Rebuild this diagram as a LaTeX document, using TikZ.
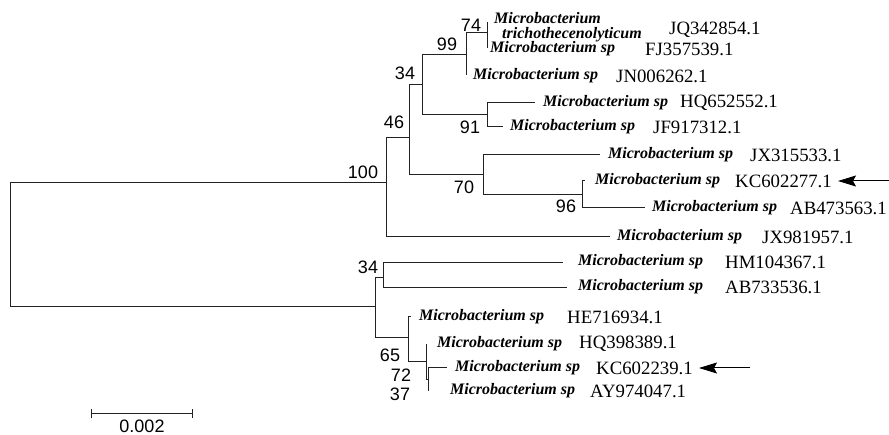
\documentclass[tikz,border=0pt]{standalone}
\usepackage{fontspec}
\setmainfont{Liberation Serif}
\newfontfamily\numfont{Liberation Sans}
\usetikzlibrary{arrows.meta}
\definecolor{treeline}{HTML}{222222}

\tikzset{
    branch/.style={line width=1pt, treeline},
    spname/.style={anchor=west, inner sep=0pt, font=\fontsize{16}{14.5}\selectfont\bfseries\itshape},
    accname/.style={anchor=west, inner sep=0pt, font=\fontsize{18.8}{20}\selectfont},
    bootval/.style={inner sep=0pt, font=\numfont\fontsize{18}{20}\selectfont},
    marker/.style={line width=1pt, shorten >=6pt, -{Stealth[length=18pt, width=11pt, inset=3pt]}}
}

\begin{document}
\begin{tikzpicture}[x=1pt, y=-1pt, >=Stealth]
    \useasboundingbox (0,0) rectangle (889,435);

    % Internal nodes of the tree
    \coordinate (root) at (10,245);
    \coordinate (n100) at (386,183);
    \coordinate (n46)  at (409,138);
    \coordinate (n34a) at (422,85);
    \coordinate (n99)  at (466,55);
    \coordinate (n74)  at (487,33);
    \coordinate (n91)  at (487,115);
    \coordinate (n70)  at (483,175);
    \coordinate (n96)  at (582,195);
    \coordinate (nlow) at (375,307);
    \coordinate (n34b) at (383,278);
    \coordinate (n65)  at (408,338);
    \coordinate (n72)  at (426,362);
    \coordinate (n37)  at (428,380);

    % Leaf tips
    \coordinate (tJQ342854) at (487,22);
    \coordinate (tFJ357539) at (487,48);
    \coordinate (tJN006262) at (466,75);
    \coordinate (tHQ652552) at (535,103);
    \coordinate (tJF917312) at (503,127);
    \coordinate (tJX315533) at (600,155);
    \coordinate (tKC602277) at (585,181);
    \coordinate (tAB473563) at (645,208);
    \coordinate (tJX981957) at (610,237);
    \coordinate (tHM104367) at (563,263);
    \coordinate (tAB733536) at (567,288);
    \coordinate (tHE716934) at (411,317);
    \coordinate (tHQ398389) at (426,344);
    \coordinate (tKC602239) at (447,368);
    \coordinate (tAY974047) at (428,391);

    % Branches
    \draw[branch] (root) |- (n100);
    \draw[branch] (root) |- (nlow);
    \draw[branch] (n100) |- (n46);
    \draw[branch] (n100) |- (tJX981957);
    \draw[branch] (n46) |- (n34a);
    \draw[branch] (n46) |- (n70);
    \draw[branch] (n34a) |- (n99);
    \draw[branch] (n34a) |- (n91);
    \draw[branch] (n99) |- (n74);
    \draw[branch] (n99) |- (tJN006262);
    \draw[branch] (n74) |- (tJQ342854);
    \draw[branch] (n74) |- (tFJ357539);
    \draw[branch] (n91) |- (tHQ652552);
    \draw[branch] (n91) |- (tJF917312);
    \draw[branch] (n70) |- (tJX315533);
    \draw[branch] (n70) |- (n96);
    \draw[branch] (n96) |- (tKC602277);
    \draw[branch] (n96) |- (tAB473563);
    \draw[branch] (nlow) |- (n34b);
    \draw[branch] (nlow) |- (n65);
    \draw[branch] (n34b) |- (tHM104367);
    \draw[branch] (n34b) |- (tAB733536);
    \draw[branch] (n65) |- (tHE716934);
    \draw[branch] (n65) |- (n72);
    \draw[branch] (n72) |- (tHQ398389);
    \draw[branch] (n72) |- (n37);
    \draw[branch] (n37) |- (tKC602239);
    \draw[branch] (n37) |- (tAY974047);

    % Bootstrap values
    \node[bootval] (b74)  at (471,25)  {74};
    \node[bootval] (b99)  at (447,44)  {99};
    \node[bootval] (b34a) at (405,73)  {34};
    \node[bootval] (b46)  at (394,122) {46};
    \node[bootval] (b91)  at (470,127) {91};
    \node[bootval] (b100) at (363,172) {100};
    \node[bootval] (b70)  at (464,187) {70};
    \node[bootval] (b96)  at (566,206) {96};
    \node[bootval] (b34b) at (368,267) {34};
    \node[bootval] (b65)  at (390,355) {65};
    \node[bootval] (b72)  at (401,375) {72};
    \node[bootval] (b37)  at (400,394) {37};

    % Species names
    \node[spname, align=left] (sJQ342854) at (494,27) {Microbacterium\\\hspace*{8pt}trichothecenolyticum};
    \node[spname] (sFJ357539) at (490,49)  {Microbacterium sp};
    \node[spname] (sJN006262) at (473,76)  {Microbacterium sp};
    \node[spname] (sHQ652552) at (543,103) {Microbacterium sp};
    \node[spname] (sJF917312) at (510,127) {Microbacterium sp};
    \node[spname] (sJX315533) at (608,155) {Microbacterium sp};
    \node[spname] (sKC602277) at (595,181) {Microbacterium sp};
    \node[spname] (sAB473563) at (652,208) {Microbacterium sp};
    \node[spname] (sJX981957) at (617,237) {Microbacterium sp};
    \node[spname] (sHM104367) at (578,262) {Microbacterium sp};
    \node[spname] (sAB733536) at (578,287) {Microbacterium sp};
    \node[spname] (sHE716934) at (419,317) {Microbacterium sp};
    \node[spname] (sHQ398389) at (437,344) {Microbacterium sp};
    \node[spname] (sKC602239) at (455,368) {Microbacterium sp};
    \node[spname] (sAY974047) at (450,391) {Microbacterium sp};

    % Accession numbers
    \node[accname] (aJQ342854) at (669,30)  {JQ342854.1};
    \node[accname] (aFJ357539) at (645,49)  {FJ357539.1};
    \node[accname] (aJN006262) at (616,76)  {JN006262.1};
    \node[accname] (aHQ652552) at (680,103) {HQ652552.1};
    \node[accname] (aJF917312) at (653,127) {JF917312.1};
    \node[accname] (aJX315533) at (750,155) {JX315533.1};
    \node[accname] (aKC602277) at (735,181) {KC602277.1};
    \node[accname] (aAB473563) at (790,208) {AB473563.1};
    \node[accname] (aJX981957) at (762,237) {JX981957.1};
    \node[accname] (aHM104367) at (725,262) {HM104367.1};
    \node[accname] (aAB733536) at (725,287) {AB733536.1};
    \node[accname] (aHE716934) at (567,317) {HE716934.1};
    \node[accname] (aHQ398389) at (579,344) {HQ398389.1};
    \node[accname] (aKC602239) at (596,368) {KC602239.1};
    \node[accname] (aAY974047) at (590,391) {AY974047.1};

    % Isolates marked with arrows
    \coordinate (mark1) at (889,181);
    \coordinate (mark2) at (750,368);
    \draw[marker] (mark1) -- (aKC602277.east);
    \draw[marker] (mark2) -- (aKC602239.east);

    % Scale bar
    \coordinate (scaleL) at (91,414);
    \coordinate (scaleR) at (193,414);
    \draw[branch, {Bar[width=9pt]}-{Bar[width=9pt]}] (scaleL) -- (scaleR);
    \node[bootval] (scaletext) at (142,426) {0.002};

\end{tikzpicture}
\end{document}
